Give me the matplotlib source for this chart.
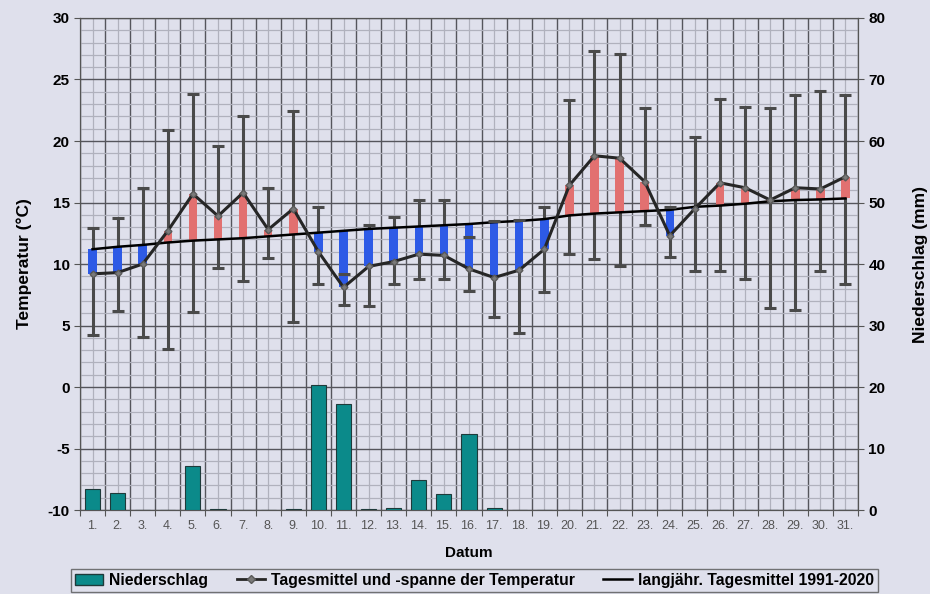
import numpy as np
import matplotlib
matplotlib.use('Agg')
from matplotlib import pyplot as plt
from matplotlib.lines import Line2D
from matplotlib.patches import Patch
from matplotlib.ticker import MultipleLocator, FixedLocator, NullFormatter

# Daten Mai
days = np.arange(1, 32)
day_labels = ['%d.' % d for d in days]
t_mean = [9.2, 9.3, 10.0, 12.7, 15.7, 13.9, 15.8, 12.8, 14.5, 11.0, 8.1, 9.8, 10.2, 10.8, 10.7, 9.6,
          8.9, 9.5, 11.2, 16.4, 18.8, 18.6, 16.7, 12.3, 14.5, 16.6, 16.2, 15.2, 16.2, 16.1, 17.1]
t_max = [12.9, 13.7, 16.2, 20.9, 23.8, 19.6, 22.0, 16.2, 22.4, 14.6, 9.2, 13.2, 13.8, 15.2, 15.2, 12.2,
         13.5, 13.6, 14.6, 23.3, 27.3, 27.1, 22.7, 14.6, 20.3, 23.4, 22.8, 22.7, 23.7, 24.1, 23.7]
t_min = [4.2, 6.2, 4.1, 3.1, 6.1, 9.7, 8.6, 10.5, 5.3, 8.4, 6.7, 6.6, 8.4, 8.8, 8.8, 7.8,
         5.7, 4.4, 7.7, 10.8, 10.4, 9.8, 13.2, 10.6, 9.4, 9.4, 8.8, 6.4, 6.3, 9.4, 8.4]
t_lt = [11.2, 11.4, 11.55, 11.75, 11.9, 12.0, 12.1, 12.25, 12.4, 12.55, 12.7, 12.85, 12.95, 13.05, 13.15, 13.25,
        13.4, 13.5, 13.65, 13.95, 14.1, 14.2, 14.3, 14.4, 14.65, 14.75, 14.9, 15.1, 15.2, 15.25, 15.33]
precip = [3.4, 2.8, 0, 0, 7.1, 0.2, 0, 0, 0.2, 20.4, 17.2, 0.2, 0.4, 4.8, 2.6, 12.4,
          0.4, 0, 0, 0, 0, 0, 0, 0, 0, 0, 0, 0, 0, 0, 0]

bg = '#dfe0ec'
plt.rcParams['font.family'] = ['Liberation Sans', 'DejaVu Sans']
plt.rcParams['axes.unicode_minus'] = False

fig = plt.figure(figsize=(9.3, 5.94), dpi=100, facecolor=bg)
ax = fig.add_axes([0.086, 0.1414, 0.8366, 0.8283])
ax.set_facecolor(bg)

mean = np.array(t_mean)
lt = np.array(t_lt)
cols = ['#2d5ae6' if m < l else '#e27070' for m, l in zip(mean, lt)]
eb = ax.errorbar(days, mean, yerr=[mean - np.array(t_min), np.array(t_max) - mean], fmt='none',
                 ecolor='#4a4a4a', elinewidth=2.2, capsize=4.3, capthick=2.2, zorder=2.5)
for c in eb[1]:
    c.set_zorder(5)
ax.bar(days, lt - mean, bottom=mean, width=0.34, color=cols, zorder=3)
ax.plot(days, lt, color='black', lw=1.8, zorder=4)
ax.plot(days, mean, color='#262626', lw=2.2, marker='D', ms=3.5, mfc='#7a7a7a', mec='#5a5a5a', zorder=6)

ax.set_xlim(0.5, 31.5)
ax.set_ylim(-10, 30)
ax.yaxis.set_major_locator(MultipleLocator(5))
ax.yaxis.set_minor_locator(MultipleLocator(1))
ax.xaxis.set_major_locator(FixedLocator(np.arange(0.5, 32, 1)))
ax.xaxis.set_major_formatter(NullFormatter())
ax.xaxis.set_minor_locator(FixedLocator(days))
ax.set_xticklabels(day_labels, minor=True)
ax.grid(which='major', color='#55555c', lw=1.0, zorder=0)
ax.grid(which='minor', color='#b0b1bd', lw=0.9, zorder=0)
ax.set_axisbelow(True)
ax.tick_params(axis='x', which='major', length=4, color='#555555')
ax.tick_params(axis='x', which='minor', length=0, labelsize=9, labelcolor='#555555', pad=7)
ax.tick_params(axis='y', which='major', length=4, color='#555555', labelsize=11)
ax.tick_params(axis='y', which='minor', length=0)
for lab in ax.get_yticklabels():
    lab.set_fontweight('bold')
for s in ax.spines.values():
    s.set_color('#555555')
ax.set_ylabel('Temperatur (°C)', fontsize=12.5, fontweight='bold', labelpad=11)
ax.set_xlabel('Datum', fontsize=11, fontweight='bold', labelpad=10)

# Niederschlag rechte Achse
ax2 = ax.twinx()
ax2.bar(days, precip, width=0.6, color='#0b8a8a', edgecolor='#1e3a3a', lw=0.8, zorder=3)
ax2.set_ylim(0, 80)
ax2.yaxis.set_major_locator(MultipleLocator(10))
ax2.tick_params(axis='y', length=4, color='#555555', labelsize=11)
for lab in ax2.get_yticklabels():
    lab.set_fontweight('bold')
for s in ax2.spines.values():
    s.set_color('#555555')
ax2.set_ylabel('Niederschlag (mm)', fontsize=12.5, fontweight='bold', labelpad=20)

handles = [Patch(facecolor='#0b8a8a', edgecolor='#1e3a3a'),
           Line2D([], [], color='#262626', lw=2, marker='D', ms=4, mfc='#7a7a7a', mec='#5a5a5a'),
           Line2D([], [], color='black', lw=1.8)]
labels = ['Niederschlag', 'Tagesmittel und -spanne der Temperatur', 'langjähr. Tagesmittel 1991-2020']
leg = fig.legend(handles, labels, loc='upper center', bbox_to_anchor=(0.51, 0.042), ncol=3,
                 frameon=True, fancybox=False, edgecolor='#555555', facecolor=bg,
                 prop={'weight': 'bold', 'size': 11.3}, borderaxespad=0,
                 handlelength=1.8, columnspacing=1.8, borderpad=0.25, handletextpad=0.4)
leg.get_frame().set_linewidth(1.0)

fig.savefig('out.png', dpi=100, facecolor=bg)
